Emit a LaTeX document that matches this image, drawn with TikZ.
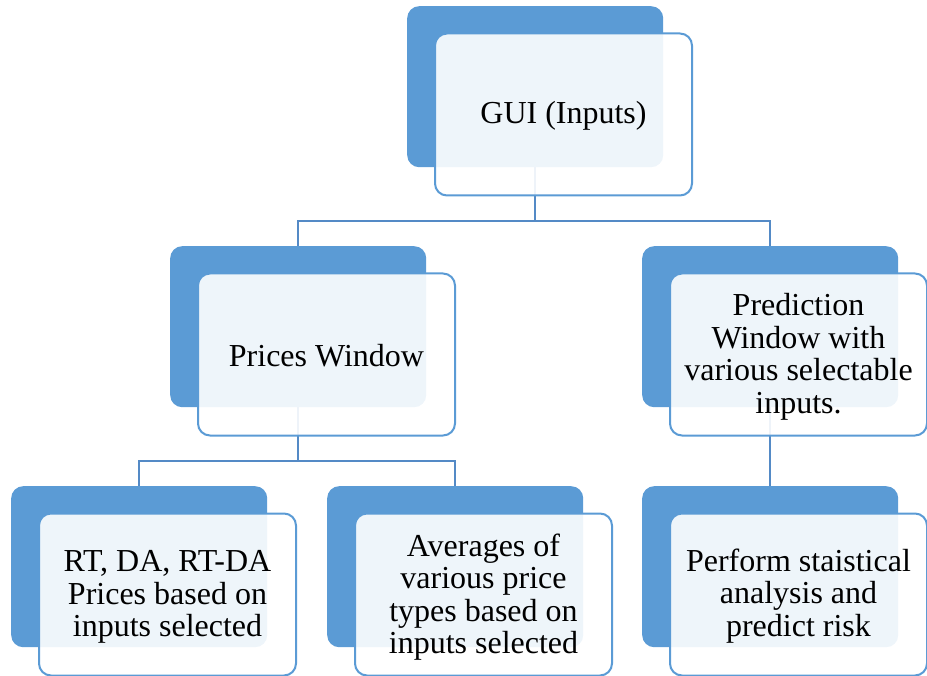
\documentclass[tikz,border=0pt]{standalone}
\usepackage{fontspec}
\setmainfont{Liberation Serif}
\definecolor{backblue}{RGB}{91,155,213}
\definecolor{connblue}{RGB}{84,138,198}
\begin{document}
\begin{tikzpicture}[x=1pt,y=-1pt,
  backbox/.style={rectangle, rounded corners=12pt, fill=backblue, minimum width=256pt, minimum height=161pt, inner sep=0pt, anchor=north west},
  frontbox/.style={rectangle, rounded corners=12pt, draw=backblue, line width=2pt, fill=white, fill opacity=0.9, minimum width=257pt, minimum height=162pt, inner sep=0pt},
  txt/.style={inner sep=0pt, align=center, font=\fontsize{32}{32.5}\selectfont},
  conn/.style={draw=connblue, line width=2pt}]
\useasboundingbox (0,0) rectangle (927,676);
% back boxes
\node[backbox] (gb) at (407,6) {};
\node[backbox] (pb) at (170,246) {};
\node[backbox] (rb) at (642,246) {};
\node[backbox] (ab) at (11,486) {};
\node[backbox] (vb) at (327,486) {};
\node[backbox] (sb) at (642,486) {};
% connectors
\path (gb.south) ++(0,54) coordinate (j1);
\draw[conn] (gb.south) -- (j1);
\draw[conn] (j1) -| (pb.north);
\draw[conn] (j1) -| (rb.north);
\path (pb.south) ++(0,54) coordinate (j2);
\draw[conn] (pb.south) -- (j2);
\draw[conn] (j2) -| (ab.north);
\draw[conn] (j2) -| (vb.north);
\draw[conn] (rb.south) -- (sb.north);
% front boxes
\node[frontbox] (gf) at (563.5,114.5) {};
\node[frontbox] (pf) at (326.5,354.5) {};
\node[frontbox] (rf) at (798.5,354.5) {};
\node[frontbox] (af) at (167.5,594.5) {};
\node[frontbox] (vf) at (483.5,594.5) {};
\node[frontbox] (sf) at (798.5,594.5) {};
% texts
\node[txt] (gt) at ([yshift=-1pt]gf.center) {GUI (Inputs)};
\node[txt] (pt) at ([yshift=-1pt]pf.center) {Prices Window};
\node[txt] (rt) at ([yshift=-2.5pt]rf.center) {Prediction\\Window with\\various selectable\\inputs.};
\node[txt] (at) at ([yshift=-2.5pt]af.center) {RT, DA, RT-DA\\Prices based on\\inputs selected};
\node[txt] (vt) at ([yshift=-2.5pt]vf.center) {Averages of\\various price\\types based on\\inputs selected};
\node[txt] (st) at ([yshift=-1.5pt]sf.center) {Perform staistical\\analysis and\\predict risk};
\end{tikzpicture}
\end{document}
